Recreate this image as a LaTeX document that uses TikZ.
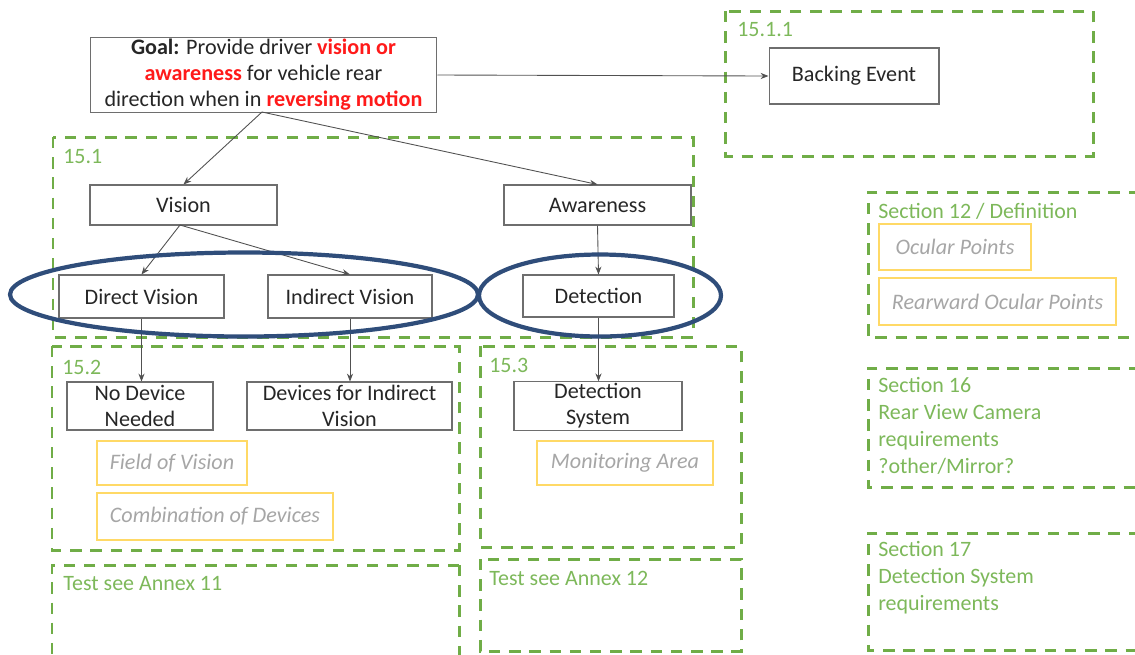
\documentclass[tikz,border=0pt]{standalone}
\usepackage{fontspec}
\setmainfont{Carlito}
\usetikzlibrary{arrows.meta}
\definecolor{dgreen}{HTML}{70AD47}
\definecolor{lgreen}{HTML}{7DB85A}
\definecolor{ybord}{HTML}{FFD966}
\definecolor{itgray}{HTML}{A6A6A6}
\definecolor{bbord}{HTML}{6E6E6E}
\definecolor{txt}{HTML}{262626}
\definecolor{ellcol}{HTML}{2F4D7A}
\definecolor{redt}{HTML}{FF1A1A}
\tikzset{
  sect/.style={draw=dgreen, line width=1.7pt, dash pattern=on 6.5pt off 5pt},
  sectlabel/.style={text=lgreen, anchor=west, inner sep=0pt, font=\fontsize{12.5}{15.3}\selectfont, align=left},
  blackbox/.style={draw=bbord, line width=0.6pt, fill=white, text=txt, align=center, inner sep=1pt, font=\fontsize{12.6}{14.8}\selectfont},
  ybox/.style={draw=ybord, line width=0.7pt, text=itgray, inner sep=1pt, font=\fontsize{12.6}{14.8}\selectfont\itshape},
  conn/.style={draw=txt!80, line width=0.5pt, -{Stealth[length=4.5pt,width=3.5pt]}},
  ell/.style={draw=ellcol, line width=2.4pt}
}
\begin{document}
\begin{tikzpicture}[x=0.02cm,y=-0.02cm]
\useasboundingbox (0,0) rectangle (1135,654);
% section boxes
\draw[sect] (725,11) rectangle (1093,156);
\node[sectlabel] (l1511) at (737,30) {15.1.1};
\draw[sect] (53,137) rectangle (693,337);
\node[sectlabel] (l151) at (63,157) {15.1};
\draw[sect] (52,346) rectangle (459,550);
\node[sectlabel] (l152) at (62,367) {15.2};
\draw[sect] (480,346) rectangle (741,547);
\node[sectlabel] (l153) at (489,365) {15.3};
\draw[sect] (459,565) -- (52,565) -- (52,660) (459,565) -- (459,660);
\node[sectlabel] (la11) at (63,583) {Test see Annex 11};
\draw[sect] (480,559) rectangle (741,651);
\node[sectlabel] (la12) at (489,578) {Test see Annex 12};
\draw[sect] (1140,192) -- (868,192) -- (868,337) -- (1140,337);
\node[sectlabel] (ls12) at (878,211) {Section 12 / Definition};
\draw[sect] (1140,368) -- (868,368) -- (868,487) -- (1140,487);
\node[sectlabel, anchor=north west] (ls16) at (878,377) {Section 16\\Rear View Camera\\requirements\\?other/Mirror?};
\draw[sect] (1140,533) -- (868,533) -- (868,650) -- (1140,650);
\node[sectlabel, anchor=north west] (ls17) at (878,541) {Section 17\\Detection System\\requirements};
% boxes
\node[blackbox, minimum width=6.94cm, minimum height=1.48cm] (goal) at (263.5,75)
 {\textbf{Goal:} Provide driver \textcolor{redt}{\textbf{vision or}}\\\textcolor{redt}{\textbf{awareness}} for vehicle rear\\direction when in \textcolor{redt}{\textbf{reversing motion}}};
\node[blackbox, minimum width=3.4cm, minimum height=1.12cm] (back) at (854,76) {Backing Event};
\node[blackbox, minimum width=3.74cm, minimum height=0.8cm] (vision) at (183.5,205) {Vision};
\node[blackbox, minimum width=3.74cm, minimum height=0.8cm] (aware) at (597.5,205) {Awareness};
\node[blackbox, minimum width=3.3cm, minimum height=0.86cm] (direct) at (141.5,296.5) {Direct Vision};
\node[blackbox, minimum width=3.28cm, minimum height=0.86cm] (indirect) at (350,296.5) {Indirect Vision};
\node[blackbox, minimum width=3.02cm, minimum height=0.84cm] (detect) at (598.5,296) {Detection};
\node[blackbox, minimum width=2.92cm, minimum height=0.96cm] (nodev) at (140,406) {No Device\\Needed};
\node[blackbox, minimum width=4.1cm, minimum height=0.96cm] (devs) at (349.5,406) {Devices for Indirect\\Vision};
\node[blackbox, minimum width=3.36cm, minimum height=0.96cm] (detsys) at (598,406) {Detection\\System};
\node[ybox, minimum width=3.0cm, minimum height=0.88cm] (fov) at (172,463) {Field of Vision};
\node[ybox, minimum width=4.72cm, minimum height=0.94cm] (comb) at (215,516.5) {Combination of Devices};
\node[ybox, minimum width=3.52cm, minimum height=0.88cm] (mon) at (625,463) {Monitoring Area};
\node[ybox, minimum width=3.04cm, minimum height=0.92cm] (ocu) at (955,247) {Ocular Points};
\node[ybox, minimum width=4.74cm, minimum height=0.94cm] (rocu) at (997.5,301.5) {Rearward Ocular Points};
% connectors
\coordinate (gb) at (262,112);
\coordinate (vb) at (180,225);
\draw[conn] (goal.east) -- (back.west);
\draw[conn] (gb) -- (vision.north);
\draw[conn] (gb) -- (aware.north);
\draw[conn] (vb) -- (direct.north);
\draw[conn] (vb) -- (indirect.north);
\draw[conn] (aware.south) -- (detect.north);
\draw[conn] (direct.south) -- (direct.south |- nodev.north);
\draw[conn] (indirect.south) -- (indirect.south |- devs.north);
\draw[conn] (detect.south) -- (detect.south |- detsys.north);
% ellipses
\draw[ell] (244,294.5) ellipse [x radius=234, y radius=42];
\draw[ell] (600,295.5) ellipse [x radius=121, y radius=41];
\end{tikzpicture}
\end{document}
